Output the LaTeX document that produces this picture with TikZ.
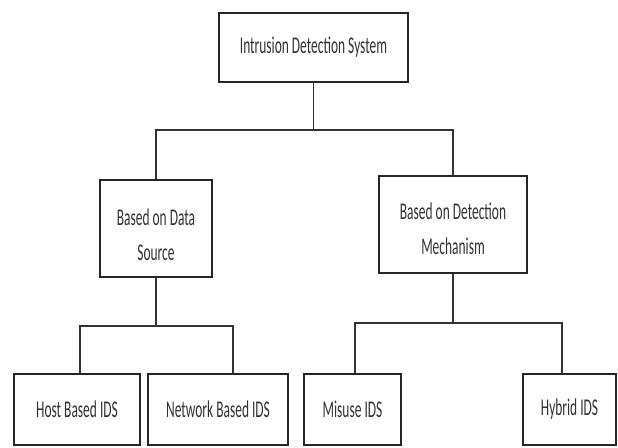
\documentclass[tikz,border=0pt]{standalone}
\usepackage{fontspec}
\usepackage{graphicx}
\setmainfont{Carlito}
\newcommand{\sq}[1]{\scalebox{0.56}[1]{#1}}
\newcommand{\sqd}[2]{\raisebox{#1}[\height][\depth]{\scalebox{0.56}[1]{#2}}}
\begin{document}
\begin{tikzpicture}[x=1pt,y=-1pt,
  box/.style={draw=black!85,line width=1.7pt,fill=white,inner sep=0pt,align=center,
    font=\fontsize{24}{35}\selectfont,text=black!80},
  conn/.style={draw=black!80,line width=1.5pt}]
\useasboundingbox (0,0) rectangle (618,447);
\node[box,minimum width=189pt,minimum height=69pt] (ids) at (313.5,47.5) {\sq{Intrusion Detection System}};
\node[box,minimum width=112pt,minimum height=97pt] (ds) at (156,228.5) {\sqd{-6pt}{Based on Data}\\\sqd{-6pt}{Source}};
\node[box,minimum width=148pt,minimum height=97pt] (dm) at (453,224.5) {\sqd{-4pt}{Based on Detection}\\\sqd{-4pt}{Mechanism}};
\node[box,minimum width=126pt,minimum height=71pt] (host) at (77,409.5) {\sq{Host Based IDS}};
\node[box,minimum width=140pt,minimum height=71pt] (net) at (218,409.5) {\sq{Network Based IDS}};
\node[box,minimum width=97pt,minimum height=71pt] (mis) at (352.5,409.5) {\sq{Misuse IDS}};
\node[box,minimum width=93pt,minimum height=71pt] (hyb) at (569.5,409.5) {\sq{Hybrid IDS}};
\coordinate (topbar) at (313.5,130);
\coordinate (lb) at (80,326);
\coordinate (rb) at (233,326);
\coordinate (ml) at (355,323);
\coordinate (mr) at (562,323);
\draw[conn] (ids.south) -- (topbar);
\draw[conn] (ds.north) -- (ds.north |- topbar) -- (dm.north |- topbar) -- (dm.north);
\draw[conn] (ds.south) -- (ds.south |- lb);
\draw[conn] (lb |- host.north) -- (lb) -- (rb) -- (rb |- net.north);
\draw[conn] (dm.south) -- (dm.south |- ml);
\draw[conn] (ml |- mis.north) -- (ml) -- (mr) -- (mr |- hyb.north);
\end{tikzpicture}
\end{document}
